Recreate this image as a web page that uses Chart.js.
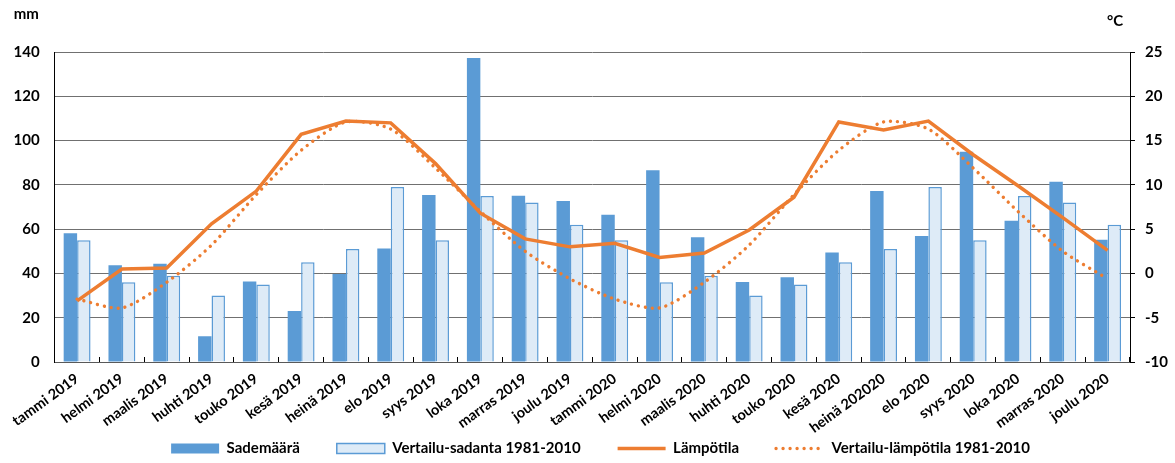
<!DOCTYPE html>
<html>
<head>
<meta charset="utf-8">
<script src="https://cdn.jsdelivr.net/npm/chart.js@4"></script>
<style>
  html, body { margin: 0; padding: 0; background: #ffffff; }
  #wrap { width: 1175px; height: 463px; }
</style>
</head>
<body>
<div id="wrap"><canvas id="chart" width="1175" height="463"></canvas></div>
<script>
// Kuukaudet 2019–2020
const months = [
  'tammi 2019', 'helmi 2019', 'maalis 2019', 'huhti 2019', 'touko 2019', 'kesä 2019',
  'heinä 2019', 'elo 2019', 'syys 2019', 'loka 2019', 'marras 2019', 'joulu 2019',
  'tammi 2020', 'helmi 2020', 'maalis 2020', 'huhti 2020', 'touko 2020', 'kesä 2020',
  'heinä 202020', 'elo 2020', 'syys 2020', 'loka 2020', 'marras 2020', 'joulu 2020'
];

// Sademäärä (mm)
const rain = [
  58.1, 43.7, 44.4, 11.6, 36.3, 23.0, 39.7, 51.3, 75.4, 137.3, 75.1, 72.7,
  66.5, 86.6, 56.3, 36.1, 38.3, 49.4, 77.2, 56.9, 94.9, 63.8, 81.4, 55.2
];

// Vertailu-sadanta 1981-2010 (mm)
const rainNormal = [
  55, 36, 39, 30, 35, 45, 51, 79, 55, 75, 72, 62,
  55, 36, 39, 30, 35, 45, 51, 79, 55, 75, 72, 62
];

// Lämpötila (°C)
const temp = [
  -3.1, 0.5, 0.6, 5.6, 9.3, 15.7, 17.2, 17.0, 12.4, 6.8, 3.9, 3.0,
  3.4, 1.8, 2.3, 4.9, 8.6, 17.1, 16.2, 17.2, 13.4, 9.9, 6.3, 2.6
];

// Vertailu-lämpötila 1981-2010 (°C)
const tempNormal = [
  -2.9, -3.9, -1.0, 3.2, 8.9, 13.9, 17.1, 16.3, 11.9, 7.0, 2.5, -0.6,
  -2.9, -3.9, -1.0, 3.2, 8.9, 13.9, 17.1, 16.3, 11.9, 7.0, 2.5, -0.6
];

// Akselien yksiköt ja asteikot
const unitLabels = ['mm', '°C'];
const rainTicks = { min: 0, max: 140, step: 20 };
const tempTicks = { min: -10, max: 25, step: 5 };

const BLUE = '#5B9BD5';
const LIGHT_BLUE = '#DEEBF7';
const ORANGE = '#ED7D31';
const FONT = 'Lato, "Open Sans", sans-serif';

// Akselin tekstit saavat ulottua akselilaatikon ulkopuolelle
const noLabelClip = s => { s._computeLabelArea = () => undefined; };

// Yksikkötekstit akselien yläpuolelle
const unitTitles = {
  id: 'unitTitles',
  afterDraw(chart) {
    const { ctx, scales } = chart;
    ctx.save();
    ctx.font = 'bold 15px ' + FONT;
    ctx.fillStyle = '#000';
    ctx.textBaseline = 'middle';
    ctx.textAlign = 'left';
    ctx.fillText(unitLabels[0], scales.y.right - 41, 14);
    ctx.fillText(unitLabels[1], scales.y1.left - 23, 21);
    ctx.restore();
  }
};

new Chart(document.getElementById('chart'), {
  data: {
    labels: months,
    datasets: [
      {
        type: 'bar',
        label: 'Sademäärä',
        data: rain,
        yAxisID: 'y',
        backgroundColor: BLUE,
        borderWidth: 0,
        categoryPercentage: 0.6,
        barPercentage: 1.0,
        order: 2
      },
      {
        type: 'bar',
        label: 'Vertailu-sadanta 1981-2010',
        data: rainNormal,
        yAxisID: 'y',
        backgroundColor: LIGHT_BLUE,
        borderColor: BLUE,
        borderWidth: 1.5,
        categoryPercentage: 0.6,
        barPercentage: 1.0,
        order: 2
      },
      {
        type: 'line',
        label: 'Lämpötila',
        data: temp,
        yAxisID: 'y1',
        borderColor: ORANGE,
        backgroundColor: ORANGE,
        borderWidth: 3.5,
        borderJoinStyle: 'miter',
        pointRadius: 0,
        tension: 0,
        order: 1
      },
      {
        type: 'line',
        label: 'Vertailu-lämpötila 1981-2010',
        data: tempNormal,
        yAxisID: 'y1',
        borderColor: ORANGE,
        backgroundColor: ORANGE,
        borderWidth: 3.4,
        borderDash: [0.01, 7],
        borderCapStyle: 'round',
        pointRadius: 0,
        tension: 0.25,
        order: 0
      }
    ]
  },
  options: {
    responsive: false,
    animation: false,
    devicePixelRatio: 1,
    layout: { padding: { top: 52, left: 26, right: 0, bottom: -3 } },
    plugins: {
      tooltip: { enabled: false },
      legend: {
        position: 'bottom',
        labels: {
          usePointStyle: true,
          pointStyleWidth: 48,
          boxHeight: 10,
          padding: 37,
          color: '#000',
          font: { family: FONT, size: 15, weight: 'bold' },
          sort: (a, b) => a.datasetIndex - b.datasetIndex,
          generateLabels(chart) {
            const items = Chart.defaults.plugins.legend.labels.generateLabels(chart);
            items.forEach(it => {
              const ds = chart.data.datasets[it.datasetIndex];
              if (ds.type === 'line') {
                it.pointStyle = 'line';
                it.lineDash = ds.borderDash || [];
                it.lineCap = ds.borderCapStyle || 'butt';
                it.lineWidth = ds.borderWidth;
              } else {
                it.pointStyle = 'rect';
              }
            });
            return items;
          }
        }
      }
    },
    scales: {
      x: {
        type: 'category',
        offset: true,
        afterFit(s) { s.height = 42; noLabelClip(s); },
        grid: {
          offset: true,
          drawOnChartArea: false,
          drawTicks: true,
          tickLength: -5,
          color: '#000'
        },
        border: { display: true, color: '#595959', width: 1 },
        ticks: {
          autoSkip: false,
          minRotation: 36,
          maxRotation: 36,
          padding: 13,
          color: '#000',
          font: { family: FONT, size: 14.5, weight: 'bold' }
        }
      },
      y: {
        position: 'left',
        min: rainTicks.min,
        max: rainTicks.max,
        afterFit(s) { s.width = 27; noLabelClip(s); },
        grid: { color: '#707070', lineWidth: 1, drawTicks: false },
        border: { display: true, color: '#000', width: 1 },
        ticks: {
          stepSize: rainTicks.step,
          padding: 15,
          color: '#000',
          font: { family: FONT, size: 15, weight: 'bold' }
        }
      },
      y1: {
        position: 'right',
        min: tempTicks.min,
        max: tempTicks.max,
        afterFit(s) { s.width = 45; noLabelClip(s); },
        grid: { drawOnChartArea: false, drawTicks: true, tickLength: 5, color: '#000' },
        border: { display: true, color: '#000', width: 1 },
        ticks: {
          stepSize: tempTicks.step,
          padding: 10,
          color: '#000',
          font: { family: FONT, size: 15, weight: 'bold' }
        }
      }
    }
  },
  plugins: [unitTitles]
});
</script>
</body>
</html>
